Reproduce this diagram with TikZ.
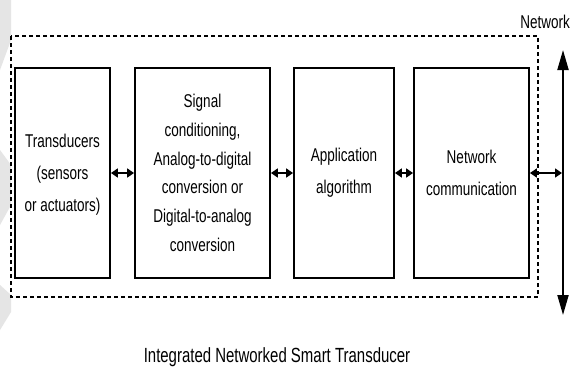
\documentclass[tikz,border=0pt]{standalone}
\usepackage{fontspec}
\setmainfont[FakeStretch=0.73]{Liberation Sans}
\usetikzlibrary{arrows.meta}
\begin{document}
\begin{tikzpicture}[x=1pt,y=-1pt,
  blockbox/.style={draw=black,line width=1.8pt,fill=white,minimum height=210pt,inner sep=0pt,align=center,font=\fontsize{18.5}{32}\selectfont},
  linkarrow/.style={line width=1.6pt,{Triangle[length=7pt,width=9pt]}-{Triangle[length=7pt,width=9pt]}},
  netarrow/.style={line width=2pt,{Triangle[length=20pt,width=11pt]}-{Triangle[length=20pt,width=11pt]}},
  watermark/.style={fill=black!10,draw=none},
  label/.style={font=\fontsize{18.5}{22}\selectfont,inner sep=0pt}]
\useasboundingbox (0,0) rectangle (572,373);
\fill[white] (0,0) rectangle (572,373);
% faint background marks at left edge
\fill[watermark] (0,0) -- (11,0) -- (11,40) -- (0,70) -- cycle;
\fill[watermark] (0,150) -- (11,165) -- (11,205) -- (0,225) -- cycle;
\fill[watermark] (0,285) -- (11,295) -- (11,312) -- (0,330) -- cycle;
% dashed enclosure
\draw[dashed,dash pattern=on 4pt off 3pt,line width=1.3pt] (11,36) rectangle (538,297);
% blocks
\node[blockbox,minimum width=95pt] (td) at (62.5,173) {\raisebox{-3pt}{\begin{tabular}{@{}c@{}}Transducers\\[0pt](sensors\\or actuators)\end{tabular}}};
\node[blockbox,minimum width=135pt,font=\fontsize{18.5}{28.7}\selectfont] (sc) at (202.5,173) {Signal\\conditioning,\\Analog-to-digital\\conversion or\\Digital-to-analog\\conversion};
\node[blockbox,minimum width=100pt] (app) at (344,173) {Application\\algorithm};
\node[blockbox,minimum width=115pt] (net) at (471.5,173) {Network\\communication};
% network bus
\coordinate (nettop) at (563,50);
\coordinate (netbot) at (563,315);
\coordinate (netmid) at (563,173);
\draw[netarrow] (nettop) -- (netbot);
% links
\draw[linkarrow] (td.east) -- (sc.west);
\draw[linkarrow] (sc.east) -- (app.west);
\draw[linkarrow] (app.east) -- (net.west);
\draw[linkarrow] (net.east) -- ([xshift=-1pt]netmid);
% labels
\node[label,anchor=east] (netlabel) at (570,22) {Network};
\node[label,font=\fontsize{20.5}{24}\selectfont] (caption) at (277,357) {Integrated Networked Smart Transducer};
\end{tikzpicture}
\end{document}
